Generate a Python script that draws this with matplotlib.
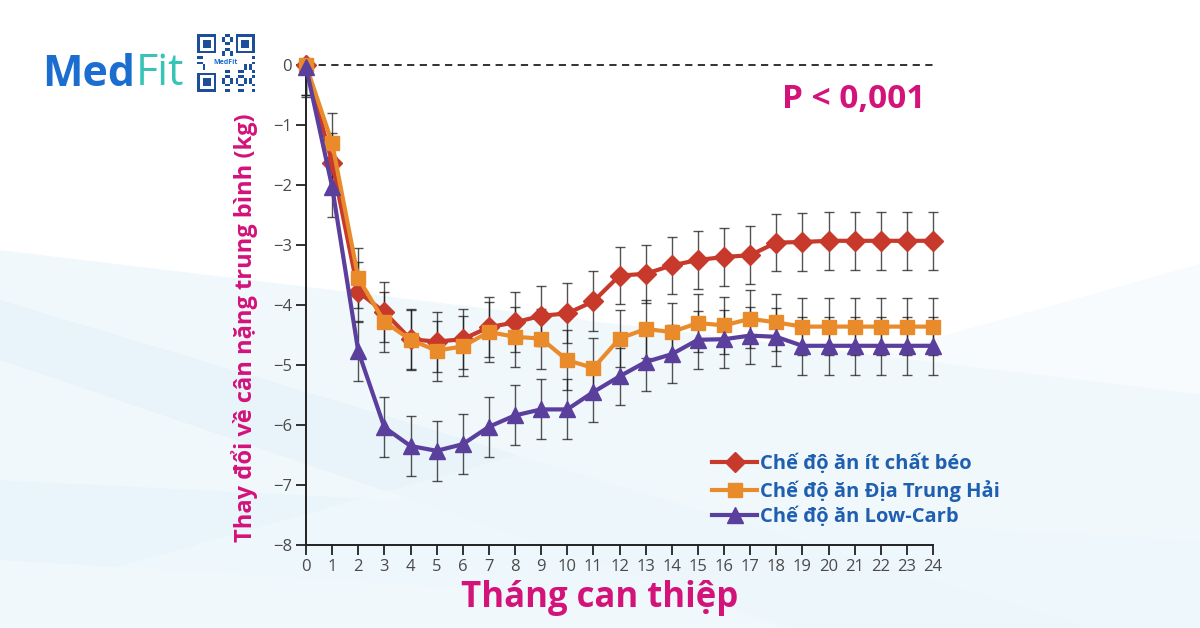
import numpy as np
import matplotlib
matplotlib.use("Agg")
import matplotlib.pyplot as plt
from matplotlib.lines import Line2D
from matplotlib.patches import Rectangle

# ---------------- data ----------------
months = list(range(0, 25))
low_fat = [0, -1.63, -3.78, -4.12, -4.57, -4.61, -4.57, -4.37, -4.29, -4.18, -4.14, -3.94,
           -3.51, -3.48, -3.34, -3.25, -3.20, -3.17, -2.96, -2.95, -2.93, -2.93, -2.93, -2.93, -2.93]
mediterranean = [0, -1.30, -3.55, -4.28, -4.58, -4.76, -4.69, -4.45, -4.53, -4.56, -4.92, -5.05,
                 -4.56, -4.40, -4.45, -4.30, -4.34, -4.23, -4.29, -4.36, -4.36, -4.36, -4.36, -4.36, -4.36]
low_carb = [-0.03, -2.03, -4.77, -6.04, -6.35, -6.43, -6.32, -6.03, -5.84, -5.74, -5.74, -5.45,
            -5.19, -4.95, -4.82, -4.58, -4.57, -4.51, -4.53, -4.68, -4.68, -4.68, -4.68, -4.68, -4.68]
err_lower = [0.5] + [0.5] * 11 + [0.48] * 13
err_upper = [0.0] + [0.5] * 11 + [0.48] * 13

series_names = ["Chế độ ăn ít chất béo", "Chế độ ăn Địa Trung Hải", "Chế độ ăn Low-Carb"]
x_ticks = list(range(0, 25))
y_ticks = [0, -1, -2, -3, -4, -5, -6, -7, -8]
y_tick_labels = ["0", "\u22121", "\u22122", "\u22123", "\u22124", "\u22125", "\u22126", "\u22127", "\u22128"]

RED = "#C73A2B"
ORANGE = "#E98B2A"
PURPLE = "#5B3F9C"
MAGENTA = "#D3127A"
BLUE = "#1F5FB0"

plt.rcParams['font.family'] = ['Open Sans', 'DejaVu Sans']

fig = plt.figure(figsize=(12, 6.28), dpi=100)
fig.patch.set_facecolor("white")

# ---------------- decorative background ----------------
bg = fig.add_axes([0, 0, 1, 1], zorder=-10)
bg.set_xlim(0, 1200)
bg.set_ylim(628, 0)
bg.axis("off")
xx = np.linspace(0, 1200, 300)
bands = [
    (lambda x: 250 + 0.12 * x, lambda x: 628 + 0 * x, "#F0F8FC", 0.9),
    (lambda x: 300 + 0.30 * x, lambda x: 360 + 0.34 * x, "#E2F2FA", 0.6),
    (lambda x: 480 + 0.05 * x, lambda x: 560 + 0.06 * x, "#E6F4FB", 0.6),
    (lambda x: 600 - 0.28 * x, lambda x: 628 + 0 * x, "#F2F9FD", 0.6),
]
for lo, hi, c, a in bands:
    bg.fill_between(xx, lo(xx), hi(xx), color=c, alpha=a, lw=0)
bg.fill_between(xx, 0, 250 - 0.05 * xx, color="white", alpha=1, lw=0)

# ---------------- main axes ----------------
ax = fig.add_axes([306 / 1200, 1 - 545 / 628, (933 - 306) / 1200, (545 - 65) / 628])
ax.patch.set_alpha(0)
ax.set_xlim(0, 24)
ax.set_ylim(-8, 0)

ax.plot([0, 24], [0, 0], ls=(0, (4, 3)), color="#222222", lw=1.3, zorder=1, clip_on=False)

styles = [
    (low_fat, RED, "D", 10),
    (mediterranean, ORANGE, "s", 10),
    (low_carb, PURPLE, "^", 11),
]
for vals, col, mk, ms in styles:
    ax.errorbar(months, vals, yerr=[err_lower, err_upper], fmt="none", ecolor="#1a1a1a",
                elinewidth=1.0, capsize=3.5, capthick=1.0, alpha=0.75, zorder=2, clip_on=False)
for (vals, col, mk, ms), name in zip(styles, series_names):
    ax.plot(months, vals, color=col, lw=3, marker=mk, markersize=ms, zorder=3,
            clip_on=False, label=name)

for s in ["top", "right"]:
    ax.spines[s].set_visible(False)
for s in ["left", "bottom"]:
    ax.spines[s].set_linewidth(1.4)
    ax.spines[s].set_color("#222222")
ax.set_xticks(x_ticks)
ax.set_xticklabels([str(t) for t in x_ticks])
ax.set_yticks(y_ticks)
ax.set_yticklabels(y_tick_labels)
ax.tick_params(axis="both", direction="out", length=7, width=1.3, color="#222222",
               labelsize=12, labelcolor="#4a4a4a", pad=3)

ax.set_ylabel("Thay đổi về cân nặng trung bình (kg)", fontsize=17, fontweight="bold",
              color=MAGENTA)
ax.yaxis.set_label_coords((245 - 306) / 627, (545 - 328) / 480)
ax.set_xlabel("Tháng can thiệp", fontsize=25, fontweight="bold", color=MAGENTA)
ax.xaxis.set_label_coords((600 - 306) / 627, (545 - 598) / 480)
ax.xaxis.label.set_va("center")
ax.yaxis.label.set_va("center")

fig.text(854 / 1200, 1 - 100 / 628, "P < 0,001", fontsize=24, fontweight="bold",
         color=MAGENTA, ha="center", va="center")

handles = [Line2D([0], [0], color=c, lw=3, marker=m, markersize=s) for _, c, m, s in styles]
leg = ax.legend(handles, series_names, loc="upper left", bbox_to_anchor=(712 / 1200, 1 - 454 / 628),
                bbox_transform=fig.transFigure, frameon=False, handlelength=2.25,
                handletextpad=0.15, labelspacing=0.27, borderaxespad=0, borderpad=0,
                prop={"size": 14.5, "weight": "bold"})
for t in leg.get_texts():
    t.set_color(BLUE)

# ---------------- logo ----------------
t_med = fig.text(42 / 1200, 1 - 74 / 628, "Med", fontsize=31, fontweight="bold", color="#1B6ED0",
                 ha="left", va="center")
fig.canvas.draw()
bb = t_med.get_window_extent()
fig.text(bb.x1 / 1200 + 0.001, 1 - 74 / 628, "Fit", fontsize=31, color="#35C4B5",
         ha="left", va="center")

qr = fig.add_axes([197 / 1200, 1 - 92 / 628, 58 / 1200, 58 / 628])
qr.set_xlim(0, 21)
qr.set_ylim(21, 0)
qr.axis("off")
for i in range(21):
    for j in range(21):
        in_finder = (i < 8 and j < 8) or (i < 8 and j > 12) or (i > 12 and j < 8)
        if in_finder:
            continue
        if (i * 7 + j * 11 + i * j) % 5 < 2:
            qr.add_patch(Rectangle((j, i), 1, 1, color="#1C4E9A", lw=0))
for (r, c) in [(0, 0), (0, 14), (14, 0)]:
    qr.add_patch(Rectangle((c, r), 7, 7, color="#1C4E9A", lw=0))
    qr.add_patch(Rectangle((c + 1, r + 1), 5, 5, color="white", lw=0))
    qr.add_patch(Rectangle((c + 2, r + 2), 3, 3, color="#1C4E9A", lw=0))
qr.add_patch(Rectangle((4, 8), 13, 5, color="white", lw=0))
qr.text(10.5, 10.5, "MedFit", fontsize=5, fontweight="bold", color="#1B6ED0", ha="center", va="center")

fig.savefig("out.png", dpi=100)
